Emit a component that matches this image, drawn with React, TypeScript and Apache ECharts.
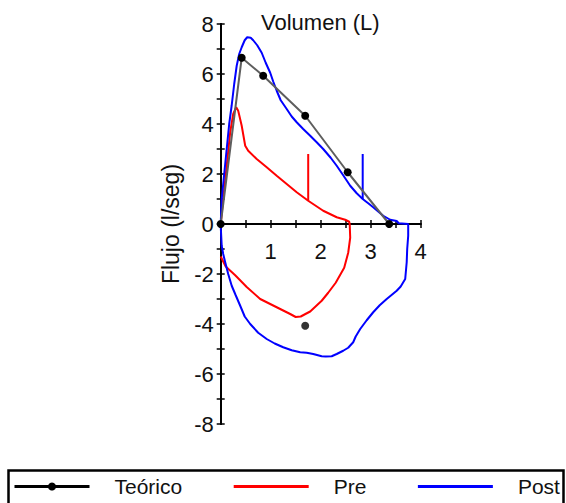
import React, { useEffect, useRef } from "react";
import * as echarts from "echarts";

// Teórico (predicted) points
const teoricoCurve: [number, number][] = [
  [0, 0], [0.42, 6.65], [0.85, 5.93], [1.69, 4.33], [2.54, 2.07], [3.37, 0],
];
const teoricoExp: [number, number][] = [[1.69, -4.07]];

// Pre loop
const preCurve: [number, number][] = [
  [0, 0], [0.05, 1.0], [0.12, 2.33], [0.19, 3.67], [0.25, 4.4], [0.31, 4.67],
  [0.35, 4.53], [0.42, 3.93], [0.49, 3.13], [0.55, 2.93], [0.72, 2.6],
  [0.92, 2.27], [1.12, 1.93], [1.32, 1.6], [1.52, 1.27], [1.75, 0.93],
  [2.05, 0.53], [2.32, 0.27], [2.49, 0.17], [2.57, 0.09], [2.58, 0],
  [2.59, -0.55], [2.55, -1.15], [2.47, -1.75], [2.3, -2.35], [2.15, -2.75],
  [2.02, -3.07], [1.79, -3.5], [1.6, -3.7], [1.5, -3.72], [1.39, -3.6],
  [1.12, -3.33], [0.79, -3.0], [0.52, -2.52], [0.29, -2.05], [0.1, -1.7],
  [0, -1.3],
];
const preMarker: [number, number][] = [[1.75, 0.93], [1.75, 2.8]];

// Post loop
const postCurve: [number, number][] = [
  [0, 0], [0.02, 1.0], [0.07, 2.0], [0.12, 3.0], [0.17, 4.0], [0.22, 4.75],
  [0.27, 5.6], [0.32, 6.33], [0.37, 6.8], [0.42, 7.07], [0.48, 7.35],
  [0.53, 7.47], [0.6, 7.45], [0.65, 7.35], [0.73, 7.15], [0.82, 6.85],
  [0.9, 6.45], [0.99, 6.05], [1.05, 5.7], [1.12, 5.33], [1.2, 4.95],
  [1.32, 4.6], [1.42, 4.3], [1.52, 4.07], [1.65, 3.8], [1.79, 3.53],
  [1.92, 3.27], [2.05, 3.0], [2.2, 2.65], [2.32, 2.33], [2.45, 1.95],
  [2.59, 1.53], [2.72, 1.23], [2.84, 1.0], [2.95, 0.83], [3.05, 0.67],
  [3.15, 0.5], [3.25, 0.33], [3.39, 0.17], [3.52, 0.12], [3.56, 0.03],
  [3.75, 0], [3.75, -0.47], [3.73, -1.0], [3.72, -1.53], [3.69, -2.2],
  [3.6, -2.5], [3.52, -2.67], [3.32, -3.0], [3.18, -3.25], [3.05, -3.53],
  [2.92, -3.85], [2.79, -4.2], [2.7, -4.5], [2.65, -4.73], [2.55, -4.95],
  [2.45, -5.07], [2.32, -5.2], [2.22, -5.29], [2.1, -5.3], [2.02, -5.29],
  [1.85, -5.2], [1.72, -5.15], [1.59, -5.13], [1.42, -5.05], [1.25, -4.93],
  [1.08, -4.78], [0.92, -4.6], [0.75, -4.35], [0.59, -4.0], [0.48, -3.7],
  [0.39, -3.27], [0.3, -2.85], [0.22, -2.47], [0.15, -2.0], [0.09, -1.53],
  [0.05, -1.2], [0.02, -0.87], [0, -0.07],
];
const postMarker: [number, number][] = [[2.84, 1.0], [2.84, 2.8]];

const seriesNames = ["Teórico", "Pre", "Post"];
const xRange = [0, 4];
const yRange = [-8, 8];
const titleText = "Volumen (L)";
const yName = "Flujo (l/seg)";

const FONT = "'Liberation Sans', Arial, sans-serif";

export default function App() {
  const ref = useRef<HTMLDivElement>(null);
  useEffect(() => {
    if (!ref.current) return;
    const chart = echarts.init(ref.current, undefined, { renderer: "svg" });
    const axisLineStyle = { color: "#000", width: 2 };
    const tickStyle = { color: "#000", width: 1.5 };
    // grid: 400 px tall for -8..8, so y = 0 sits 200 px above the bottom edge
    const xBase = {
      type: "value" as const,
      min: xRange[0],
      max: xRange[1],
      interval: 0.5,
      position: "bottom" as const,
      offset: -200,
      splitLine: { show: false },
      axisLine: { show: true, onZero: false, lineStyle: axisLineStyle },
    };
    const yBase = {
      type: "value" as const,
      min: yRange[0],
      max: yRange[1],
      interval: 1,
      position: "left" as const,
      splitLine: { show: false },
      axisLine: { show: true, onZero: false, lineStyle: axisLineStyle },
    };
    chart.setOption({
      animation: false,
      backgroundColor: "#fff",
      textStyle: { fontFamily: FONT },
      title: {
        text: titleText,
        left: 261,
        top: 11,
        padding: 0,
        textStyle: { fontSize: 22, fontWeight: "normal", color: "#111", fontFamily: FONT },
      },
      grid: { left: 220.7, top: 24, width: 200, height: 400 },
      legend: {
        data: [
          { name: seriesNames[0], itemStyle: { color: "#000" }, lineStyle: { color: "#000", width: 3 } },
          { name: seriesNames[1], itemStyle: { opacity: 0 }, lineStyle: { color: "#ff0000", width: 3 } },
          { name: seriesNames[2], itemStyle: { opacity: 0 }, lineStyle: { color: "#0000ff", width: 3 } },
        ],
        left: 13,
        top: 476,
        width: 600,
        padding: 0,
        itemWidth: 75,
        itemHeight: 10,
        itemGap: 50,
        selectedMode: false,
        textStyle: { fontSize: 21, color: "#111", fontFamily: FONT, padding: [0, 0, 0, 20] },
      },
      graphic: [
        {
          type: "rect",
          shape: { x: 8.5, y: 470.5, width: 555, height: 60 },
          style: { fill: "none", stroke: "#000", lineWidth: 2.5 },
          silent: true,
        },
      ],
      xAxis: [
        {
          ...xBase,
          axisTick: { show: true, inside: false, length: 4, lineStyle: tickStyle },
          axisLabel: {
            margin: 16,
            fontSize: 22,
            color: "#111",
            fontFamily: FONT,
            formatter: (v: number) => (v > 0 && Number.isInteger(v) ? String(v) : ""),
          },
        },
        {
          ...xBase,
          axisTick: { show: true, inside: true, length: 4, lineStyle: tickStyle },
          axisLabel: { show: false },
        },
      ],
      yAxis: [
        {
          ...yBase,
          name: yName,
          nameLocation: "middle",
          nameRotate: 90,
          nameGap: 38,
          nameTextStyle: { fontSize: 23, color: "#111", fontFamily: FONT },
          axisTick: { show: true, inside: false, length: 4, lineStyle: tickStyle },
          axisLabel: {
            margin: 7,
            fontSize: 22,
            color: "#111",
            fontFamily: FONT,
            formatter: (v: number) => (Math.round(v) % 2 === 0 ? String(v) : ""),
          },
        },
        {
          ...yBase,
          axisTick: { show: true, inside: true, length: 4, lineStyle: tickStyle },
          axisLabel: { show: false },
        },
      ],
      series: [
        {
          name: seriesNames[1],
          type: "line",
          data: preCurve,
          symbol: "none",
          lineStyle: { color: "#ff0000", width: 2 },
          itemStyle: { color: "#ff0000" },
          z: 3,
        },
        {
          name: seriesNames[1],
          type: "line",
          data: preMarker,
          symbol: "none",
          lineStyle: { color: "#ff0000", width: 2 },
          itemStyle: { color: "#ff0000" },
          z: 3,
        },
        {
          name: seriesNames[2],
          type: "line",
          data: postCurve,
          symbol: "none",
          lineStyle: { color: "#0000ff", width: 2 },
          itemStyle: { color: "#0000ff" },
          z: 3,
        },
        {
          name: seriesNames[2],
          type: "line",
          data: postMarker,
          symbol: "none",
          lineStyle: { color: "#0000ff", width: 2 },
          itemStyle: { color: "#0000ff" },
          z: 3,
        },
        {
          name: seriesNames[0],
          type: "line",
          data: teoricoCurve,
          symbol: "circle",
          symbolSize: 8,
          showSymbol: true,
          lineStyle: { color: "#5e5e5e", width: 2 },
          itemStyle: { color: "#000" },
          z: 4,
        },
        {
          name: seriesNames[0],
          type: "scatter",
          data: teoricoExp,
          symbol: "circle",
          symbolSize: 8,
          itemStyle: { color: "#000" },
          z: 4,
        },
      ],
    });
    return () => chart.dispose();
  }, []);
  return (
    <div
      ref={ref}
      style={{ position: "fixed", left: 0, top: 0, width: 566, height: 503, background: "#fff" }}
    />
  );
}
